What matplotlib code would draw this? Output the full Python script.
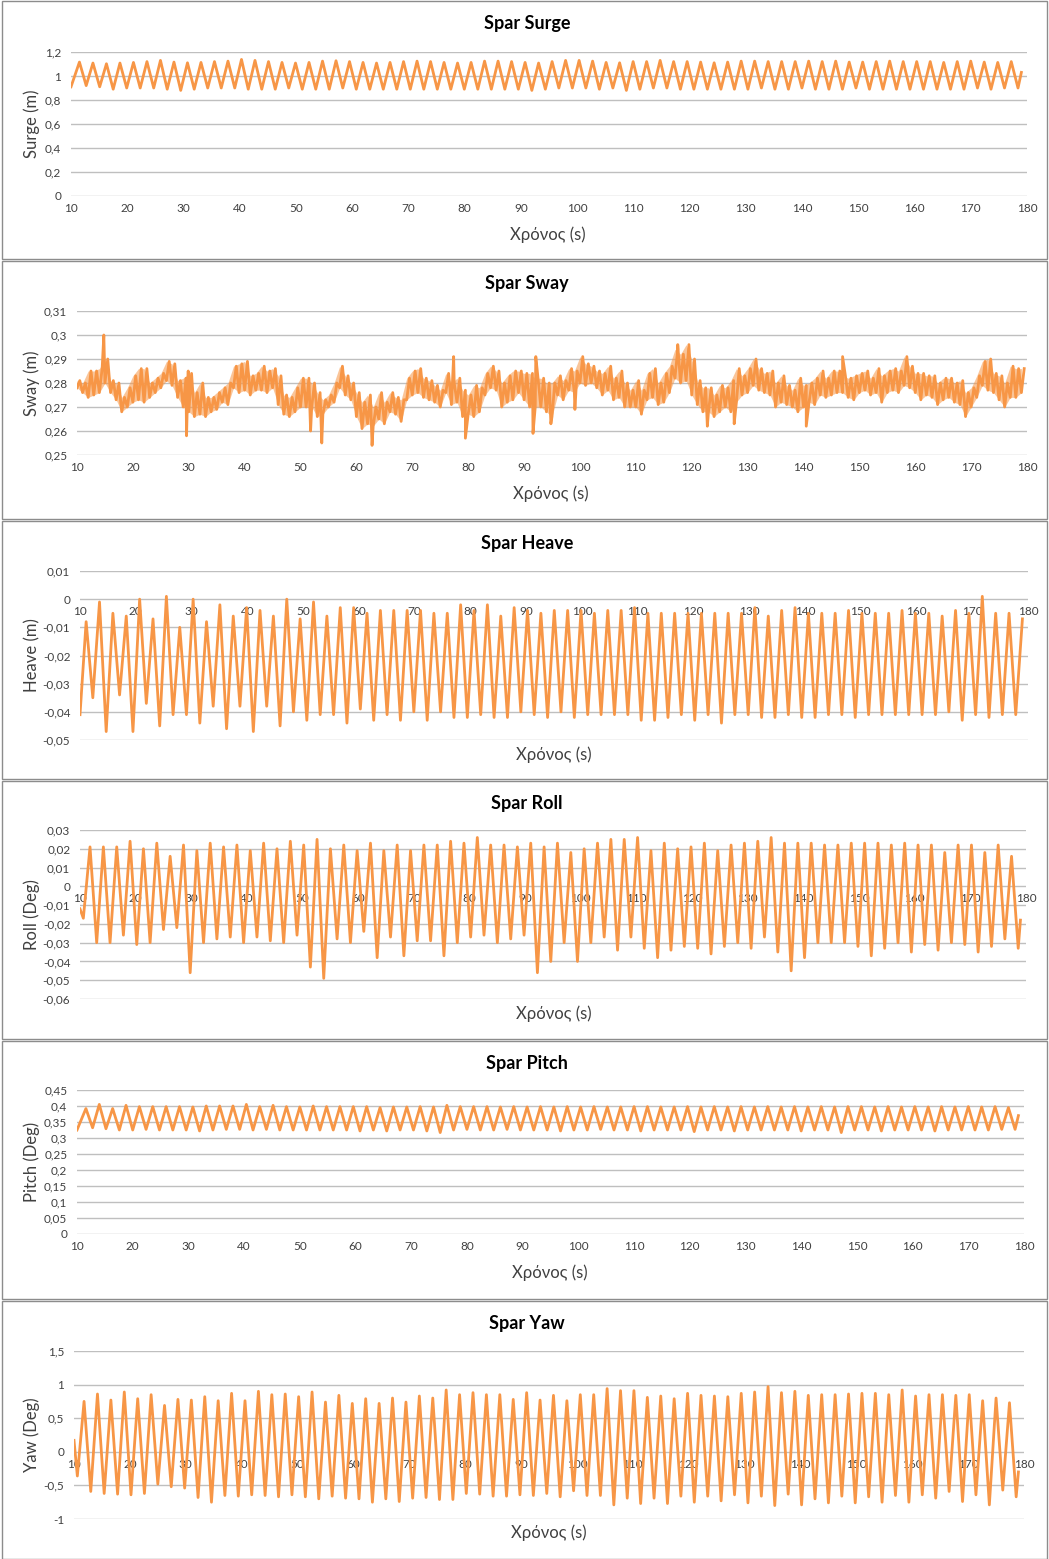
import numpy as np
import matplotlib.pyplot as plt
from matplotlib.patches import Rectangle
from matplotlib.ticker import FuncFormatter

plt.rcParams['font.family'] = ['Lato', 'Noto Sans', 'DejaVu Sans']

W, H = 1049, 1559
ORANGE = '#F79646'
GRID = '#BFBFBF'
TXT = '#404040'

T_START, T_END = 10, 179

# ---- Surge: peaks / troughs (m)
surge_peaks = [1.116, 1.108, 1.102, 1.108, 1.113, 1.12, 1.13, 1.116, 1.11, 1.113,
               1.12, 1.124, 1.138, 1.13, 1.12, 1.113, 1.108, 1.113, 1.124, 1.127,
               1.12, 1.113, 1.108, 1.113, 1.12, 1.124, 1.12, 1.113, 1.108, 1.113,
               1.124, 1.124, 1.12, 1.113, 1.108, 1.12, 1.13, 1.13, 1.124, 1.113,
               1.11, 1.12, 1.12, 1.13, 1.12, 1.12, 1.116, 1.11, 1.116, 1.124,
               1.124, 1.12, 1.12, 1.12, 1.124, 1.12, 1.124, 1.116, 1.116, 1.12,
               1.124, 1.12, 1.12, 1.12, 1.113, 1.12, 1.124, 1.116, 1.113, 1.12]
surge_troughs = [0.92, 0.91, 0.89, 0.90, 0.90, 0.90, 0.89, 0.88, 0.89, 0.90,
                 0.90, 0.90, 0.89, 0.89, 0.89, 0.90, 0.89, 0.89, 0.89, 0.90,
                 0.89, 0.89, 0.89, 0.89, 0.89, 0.89, 0.89, 0.89, 0.89, 0.89,
                 0.89, 0.89, 0.89, 0.88, 0.89, 0.90, 0.90, 0.90, 0.89, 0.90,
                 0.88, 0.89, 0.90, 0.90, 0.89, 0.89, 0.89, 0.89, 0.89, 0.89,
                 0.90, 0.89, 0.89, 0.90, 0.89, 0.89, 0.89, 0.90, 0.89, 0.89,
                 0.89, 0.89, 0.89, 0.89, 0.89, 0.89, 0.90, 0.89, 0.90, 0.90]

# ---- Sway: lower / upper edge of the noisy band, one pair per second from t=10 (m)
sway_lo = [.278, .276, .274, .275, .276, .280, .276, .273, .268, .270,
           .272, .273, .272, .274, .276, .278, .281, .279, .274, .270,
           .268, .266, .267, .266, .268, .269, .272, .271, .278, .276,
           .277, .275, .277, .277, .276, .278, .271, .267, .266, .268,
           .270, .270, .270, .266, .267, .270, .272, .278, .275, .273,
           .266, .261, .263, .262, .265, .263, .268, .267, .264, .273,
           .275, .276, .274, .273, .272, .270, .276, .271, .272, .266,
           .267, .266, .268, .275, .278, .277, .270, .272, .273, .276,
           .273, .270, .270, .270, .268, .266, .275, .273, .277, .276,
           .280, .279, .280, .278, .275, .277, .273, .274, .270, .270,
           .270, .267, .273, .274, .271, .272, .276, .282, .280, .281,
           .275, .271, .268, .268, .266, .268, .270, .268, .272, .275,
           .276, .279, .277, .276, .275, .270, .272, .271, .270, .268,
           .270, .272, .271, .275, .274, .275, .276, .276, .274, .273,
           .276, .277, .275, .276, .272, .276, .277, .276, .279, .278,
           .276, .273, .275, .274, .271, .273, .274, .272, .271, .266,
           .270, .274, .279, .277, .276, .273, .270, .274, .274, .276]
sway_hi = [.281, .280, .285, .285, .286, .290, .281, .280, .274, .278,
           .283, .286, .286, .280, .282, .284, .289, .288, .281, .282,
           .284, .276, .280, .274, .274, .276, .278, .280, .287, .288,
           .289, .283, .284, .287, .285, .286, .283, .275, .274, .278,
           .282, .282, .280, .276, .273, .275, .280, .287, .283, .280,
           .276, .272, .275, .270, .276, .272, .276, .274, .273, .282,
           .285, .286, .282, .281, .279, .277, .284, .280, .282, .277,
           .275, .279, .278, .284, .287, .285, .280, .283, .285, .285,
           .284, .284, .282, .282, .280, .280, .283, .281, .286, .285,
           .291, .288, .287, .285, .284, .287, .282, .285, .280, .277,
           .281, .277, .284, .286, .280, .284, .287, .294, .292, .296,
           .290, .281, .278, .278, .275, .279, .278, .281, .286, .283,
           .286, .290, .286, .284, .285, .280, .283, .279, .277, .282,
           .279, .280, .282, .285, .282, .285, .285, .283, .282, .283,
           .284, .285, .282, .286, .283, .285, .286, .285, .291, .287,
           .284, .284, .283, .283, .280, .282, .282, .280, .281, .276,
           .278, .283, .289, .290, .284, .283, .280, .287, .286, .286]
sway_spikes = [(14.8, 0.300), (29.6, 0.258), (29.9, 0.285), (51.8, 0.260),
               (53.8, 0.255), (62.8, 0.254), (77.4, 0.291), (79.5, 0.257),
               (91.6, 0.259), (92.1, 0.291), (94.8, 0.263), (99.1, 0.269),
               (117.5, 0.296), (122.8, 0.262), (127.6, 0.263), (140.5, 0.262),
               (147.0, 0.291)]

# ---- Heave (m)
heave_peaks = [-0.008, -0.001, -0.005, -0.006, 0.000, -0.007, 0.001, -0.010, 0.000, -0.008,
               -0.002, -0.006, -0.003, -0.004, -0.006, 0.000, -0.007, -0.001, -0.006, -0.003,
               -0.003, -0.005, -0.004, -0.004, -0.004, -0.004, -0.005, -0.005, -0.002, -0.004,
               -0.002, -0.006, -0.003, -0.004, -0.005, -0.004, -0.004, -0.004, -0.005, -0.004,
               -0.004, -0.003, -0.005, -0.005, -0.005, -0.005, -0.005, -0.005, -0.005, -0.005,
               -0.003, -0.006, -0.004, -0.003, -0.005, -0.005, -0.005, -0.004, -0.005, -0.005,
               -0.005, -0.004, -0.005, -0.005, -0.006, -0.004, -0.005, 0.001, -0.005, -0.005]
heave_troughs = [-0.035, -0.047, -0.034, -0.047, -0.037, -0.045, -0.041, -0.041, -0.044, -0.038,
                 -0.046, -0.038, -0.047, -0.038, -0.045, -0.040, -0.043, -0.041, -0.041, -0.044,
                 -0.039, -0.043, -0.041, -0.043, -0.040, -0.043, -0.040, -0.042, -0.042, -0.041,
                 -0.042, -0.042, -0.040, -0.041, -0.042, -0.040, -0.042, -0.041, -0.041, -0.041,
                 -0.041, -0.043, -0.043, -0.042, -0.041, -0.043, -0.041, -0.044, -0.041, -0.041,
                 -0.042, -0.042, -0.041, -0.042, -0.042, -0.041, -0.041, -0.042, -0.041, -0.041,
                 -0.041, -0.041, -0.041, -0.041, -0.040, -0.043, -0.041, -0.042, -0.041, -0.041]

# ---- Roll (Deg); the deep spikes show up as deeper troughs
roll_troughs = [-0.017, -0.030, -0.030, -0.026, -0.031, -0.030, -0.023, -0.022, -0.046, -0.030,
                -0.028, -0.027, -0.030, -0.027, -0.029, -0.030, -0.026, -0.043, -0.049, -0.028,
                -0.030, -0.024, -0.038, -0.027, -0.037, -0.029, -0.029, -0.037, -0.030, -0.027,
                -0.026, -0.030, -0.028, -0.026, -0.046, -0.040, -0.030, -0.040, -0.030, -0.027,
                -0.034, -0.027, -0.033, -0.038, -0.034, -0.032, -0.033, -0.036, -0.032, -0.030,
                -0.033, -0.027, -0.035, -0.045, -0.038, -0.030, -0.030, -0.030, -0.032, -0.037,
                -0.033, -0.030, -0.035, -0.031, -0.034, -0.030, -0.031, -0.035, -0.032, -0.028,
                -0.033]
roll_peaks = [0.021, 0.021, 0.021, 0.024, 0.020, 0.023, 0.016, 0.022, 0.019, 0.023,
              0.021, 0.022, 0.019, 0.023, 0.020, 0.024, 0.022, 0.025, 0.020, 0.022,
              0.019, 0.023, 0.019, 0.022, 0.019, 0.022, 0.022, 0.024, 0.023, 0.026,
              0.022, 0.022, 0.021, 0.023, 0.021, 0.023, 0.018, 0.020, 0.023, 0.025,
              0.025, 0.026, 0.019, 0.023, 0.020, 0.021, 0.023, 0.019, 0.022, 0.023,
              0.024, 0.026, 0.023, 0.023, 0.023, 0.022, 0.022, 0.023, 0.023, 0.023,
              0.022, 0.023, 0.022, 0.022, 0.018, 0.022, 0.022, 0.018, 0.022, 0.016]

# ---- Pitch (Deg)
pitch_peaks = [0.392, 0.405, 0.392, 0.402, 0.398, 0.398, 0.398, 0.398, 0.397, 0.400,
               0.400, 0.400, 0.405, 0.398, 0.402, 0.398, 0.397, 0.400, 0.398, 0.398,
               0.398, 0.398, 0.395, 0.397, 0.397, 0.398, 0.397, 0.402, 0.398, 0.398,
               0.398, 0.397, 0.398, 0.397, 0.398, 0.397, 0.398, 0.397, 0.398, 0.397,
               0.397, 0.398, 0.398, 0.397, 0.397, 0.398, 0.397, 0.398, 0.397, 0.398,
               0.397, 0.398, 0.397, 0.398, 0.397, 0.398, 0.397, 0.398, 0.398, 0.397,
               0.398, 0.397, 0.398, 0.397, 0.398, 0.397, 0.398, 0.397, 0.398, 0.395]
pitch_troughs = [0.332, 0.329, 0.325, 0.325, 0.327, 0.325, 0.325, 0.325, 0.322, 0.325,
                 0.327, 0.327, 0.325, 0.327, 0.325, 0.325, 0.325, 0.325, 0.325, 0.325,
                 0.322, 0.325, 0.322, 0.325, 0.325, 0.322, 0.317, 0.325, 0.327, 0.325,
                 0.325, 0.327, 0.325, 0.325, 0.325, 0.322, 0.325, 0.325, 0.327, 0.325,
                 0.325, 0.322, 0.325, 0.325, 0.325, 0.320, 0.325, 0.325, 0.322, 0.325,
                 0.325, 0.325, 0.325, 0.322, 0.325, 0.325, 0.317, 0.325, 0.325, 0.322,
                 0.325, 0.325, 0.325, 0.322, 0.325, 0.325, 0.325, 0.325, 0.327, 0.327]

# ---- Yaw (Deg)
yaw_troughs = [-0.36, -0.59, -0.62, -0.63, -0.64, -0.62, -0.48, -0.52, -0.54, -0.68,
               -0.75, -0.65, -0.66, -0.64, -0.65, -0.67, -0.64, -0.67, -0.70, -0.66,
               -0.69, -0.70, -0.75, -0.70, -0.74, -0.69, -0.68, -0.71, -0.71, -0.62,
               -0.63, -0.66, -0.66, -0.64, -0.65, -0.62, -0.67, -0.58, -0.65, -0.65,
               -0.79, -0.69, -0.77, -0.69, -0.77, -0.66, -0.75, -0.66, -0.73, -0.64,
               -0.76, -0.66, -0.80, -0.63, -0.79, -0.70, -0.76, -0.66, -0.76, -0.67,
               -0.75, -0.65, -0.75, -0.64, -0.69, -0.59, -0.74, -0.64, -0.79, -0.57,
               -0.67]
yaw_peaks = [0.75, 0.86, 0.77, 0.89, 0.79, 0.85, 0.69, 0.78, 0.77, 0.82,
             0.76, 0.87, 0.76, 0.90, 0.85, 0.86, 0.82, 0.89, 0.74, 0.84,
             0.72, 0.79, 0.72, 0.80, 0.74, 0.83, 0.80, 0.92, 0.85, 0.88,
             0.85, 0.85, 0.78, 0.88, 0.77, 0.84, 0.76, 0.85, 0.85, 0.94,
             0.91, 0.91, 0.81, 0.83, 0.79, 0.87, 0.84, 0.83, 0.82, 0.87,
             0.89, 0.97, 0.88, 0.90, 0.84, 0.85, 0.85, 0.86, 0.87, 0.87,
             0.85, 0.92, 0.83, 0.85, 0.85, 0.84, 0.85, 0.76, 0.80, 0.73]


def wave(first, second, t_first, t_last, start, end):
    # alternate the two lists of extremes, spread them over the time span
    vals = []
    for i in range(max(len(first), len(second))):
        if i < len(first):
            vals.append(first[i])
        if i < len(second):
            vals.append(second[i])
    t = np.concatenate([[T_START], np.linspace(t_first, t_last, len(vals)), [T_END]])
    v = np.concatenate([[start], vals, [end]])
    return t, v


def band(lo, hi, spikes):
    t = np.concatenate([np.arange(len(lo)) + T_START, np.arange(len(hi)) + T_START + 0.5,
                        [s[0] for s in spikes]])
    v = np.concatenate([lo, hi, [s[1] for s in spikes]])
    order = np.argsort(t, kind='stable')
    return t[order], v[order]


series = [
    wave(surge_peaks, surge_troughs, 11.5, 178.4, 0.91, 1.03),
    band(sway_lo, sway_hi, sway_spikes),
    wave(heave_peaks, heave_troughs, 11.1, 177.8, -0.041, -0.007),
    wave(roll_troughs, roll_peaks, 10.6, 178.6, -0.012, -0.018),
    wave(pitch_peaks, pitch_troughs, 11.6, 178.4, 0.325, 0.37),
    wave(yaw_troughs, yaw_peaks, 10.6, 178.6, 0.17, -0.30),
]

# panel layout in pixels: title, y label, limits, tick step, plot box (l, t, r, b), axis at zero
panels = [
    dict(title='Spar Surge', ylabel='Surge (m)', ylim=(0, 1.2), step=0.2,
         box=(71, 52, 1027, 196), cross=False, ty=24, xly=235, xlx=548),
    dict(title='Spar Sway', ylabel='Sway (m)', ylim=(0.25, 0.31), step=0.01,
         box=(77, 311, 1027, 455), cross=False, ty=284, xly=494, xlx=551),
    dict(title='Spar Heave', ylabel='Heave (m)', ylim=(-0.05, 0.01), step=0.01,
         box=(80, 571, 1028, 740), cross=True, ty=544, xly=755, xlx=554),
    dict(title='Spar Roll', ylabel='Roll (Deg)', ylim=(-0.06, 0.03), step=0.01,
         box=(80, 830, 1026, 999), cross=True, ty=803, xly=1014, xlx=554),
    dict(title='Spar Pitch', ylabel='Pitch (Deg)', ylim=(0, 0.45), step=0.05,
         box=(77, 1090, 1024, 1234), cross=False, ty=1063, xly=1273, xlx=550),
    dict(title='Spar Yaw', ylabel='Yaw (Deg)', ylim=(-1, 1.5), step=0.5,
         box=(74, 1351, 1024, 1519), cross=True, ty=1323, xly=1533, xlx=549),
]

comma = FuncFormatter(lambda v, pos: '{:g}'.format(round(v, 4)).replace('.', ','))

fig = plt.figure(figsize=(W / 100, H / 100), dpi=100)

for i, (p, (t, v)) in enumerate(zip(panels, series)):
    # chart frame
    y0 = 1 + i * 260
    fig.patches.append(Rectangle((2 / W, 1 - (y0 + 258) / H), 1045 / W, 258 / H,
                                 transform=fig.transFigure, fill=False,
                                 edgecolor='#8C8C8C', lw=1))
    l, tp, r, b = p['box']
    ax = fig.add_axes([l / W, 1 - b / H, (r - l) / W, (b - tp) / H])
    if i == 1:
        # the sway trace is so dense it reads as a filled band
        ax.fill_between(np.arange(len(sway_lo)) + T_START, sway_lo, sway_hi,
                        color=ORANGE, alpha=0.55, lw=0)
    ax.plot(t, v, color=ORANGE, lw=2.0, solid_joinstyle='round')
    ax.set_xlim(10, 180)
    lo, hi = p['ylim']
    ax.set_ylim(lo, hi)
    ax.set_yticks(np.round(np.arange(lo, hi + p['step'] / 2, p['step']), 4))
    ax.set_xticks(np.arange(10, 181, 10))
    ax.yaxis.set_major_formatter(comma)
    for s in ax.spines.values():
        s.set_visible(False)
    ax.grid(axis='y', color=GRID, lw=1)
    ax.set_axisbelow(True)
    ax.tick_params(axis='y', length=0, pad=7, labelsize=8.5, labelcolor=TXT)
    ax.tick_params(axis='x', length=0, pad=5, labelsize=8.5, labelcolor=TXT)
    if p['cross']:
        ax.spines['bottom'].set_position(('data', 0))
    for lab in ax.get_xticklabels() + ax.get_yticklabels():
        lab.set_clip_on(False)

    fig.text(527 / W, 1 - p['ty'] / H, p['title'], ha='center', va='center',
             fontsize=13, fontweight='bold', color='black')
    fig.text(p['xlx'] / W, 1 - p['xly'] / H, 'Χρόνος (s)', ha='center', va='center',
             fontsize=12, color=TXT)
    fig.text(32 / W, 1 - (tp + b) / 2 / H, p['ylabel'], ha='center', va='center',
             rotation=90, fontsize=12, color=TXT)

fig.savefig('out.png', dpi=100)
